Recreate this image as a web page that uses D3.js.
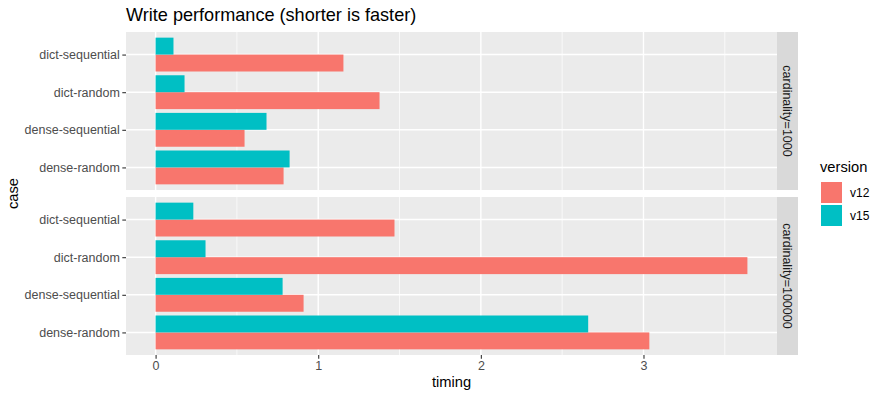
<!DOCTYPE html>
<html>
<head>
<meta charset="utf-8">
<script src="https://cdn.jsdelivr.net/npm/d3@7"></script>
<style>
  body { margin: 0; background: #fff; }
  svg { font-family: "Liberation Sans", Arial, sans-serif; display: block; }
</style>
</head>
<body>
<svg width="885" height="397"></svg>
<script>
// data
var cases = ["dict-sequential", "dict-random", "dense-sequential", "dense-random"];
var versions = ["v12", "v15"];
var panels = ["cardinality=1000", "cardinality=100000"];
var v12_1000 = [1.155, 1.377, 0.547, 0.787];
var v15_1000 = [0.110, 0.178, 0.682, 0.824];
var v12_100000 = [1.469, 3.639, 0.910, 3.036];
var v15_100000 = [0.232, 0.307, 0.781, 2.660];
var xTicks = [0, 1, 2, 3];
var colors = ["#F8766D", "#00BFC4"];

var panelData = [
  { name: panels[0], v12: v12_1000, v15: v15_1000 },
  { name: panels[1], v12: v12_100000, v15: v15_100000 }
];

var svg = d3.select("svg");
var left = 126, right = 777, stripW = 21;
var tops = [32, 197], ph = 158;
var small = 12.5;

var maxV = d3.max(panelData, function(p){ return d3.max(p.v12.concat(p.v15)); });
var x = d3.scaleLinear()
  .domain([-0.05 * maxV, maxV * 1.05])
  .range([left, right]);
var color = d3.scaleOrdinal().domain(versions).range(colors);

svg.append("text")
  .attr("x", left).attr("y", 21)
  .attr("font-size", 18.1).attr("fill", "#000")
  .text("Write performance (shorter is faster)");

panelData.forEach(function(p, i){
  var top = tops[i];
  var g = svg.append("g");
  var y = d3.scalePoint().domain(cases).range([top, top + ph]).padding(0.6);
  var step = y.step();
  // v15 drawn above v12 within each case
  var dodge = d3.scaleBand().domain(["v15", "v12"]).range([-0.45 * step, 0.45 * step]);

  g.append("rect").attr("x", left).attr("y", top)
    .attr("width", right - left).attr("height", ph).attr("fill", "#EBEBEB");

  // minor grid
  g.selectAll(".minor").data([0.5, 1.5, 2.5, 3.5]).enter().append("line")
    .attr("x1", function(d){ return x(d); }).attr("x2", function(d){ return x(d); })
    .attr("y1", top).attr("y2", top + ph)
    .attr("stroke", "#fff").attr("stroke-width", 0.7);
  // major grid
  g.selectAll(".majx").data(xTicks).enter().append("line")
    .attr("x1", function(d){ return x(d); }).attr("x2", function(d){ return x(d); })
    .attr("y1", top).attr("y2", top + ph)
    .attr("stroke", "#fff").attr("stroke-width", 1.4);
  g.selectAll(".majy").data(cases).enter().append("line")
    .attr("x1", left).attr("x2", right)
    .attr("y1", function(d){ return y(d); }).attr("y2", function(d){ return y(d); })
    .attr("stroke", "#fff").attr("stroke-width", 1.4);

  var bars = [];
  cases.forEach(function(c, k){
    bars.push({ c: c, v: "v12", val: p.v12[k] });
    bars.push({ c: c, v: "v15", val: p.v15[k] });
  });
  g.selectAll(".bar").data(bars).enter().append("rect")
    .attr("x", x(0))
    .attr("y", function(d){ return y(d.c) + dodge(d.v); })
    .attr("width", function(d){ return x(d.val) - x(0); })
    .attr("height", dodge.bandwidth())
    .attr("fill", function(d){ return color(d.v); });

  // y axis
  var ya = g.append("g").attr("transform", "translate(" + left + ",0)")
    .call(d3.axisLeft(y).tickSize(3.7).tickPadding(2.5));
  ya.select(".domain").remove();
  ya.selectAll("line").attr("stroke", "#333").attr("stroke-width", 1.1);
  ya.selectAll("text").attr("font-size", small).attr("fill", "#4D4D4D")
    .attr("font-family", "Liberation Sans, Arial, sans-serif");

  // strip
  g.append("rect").attr("x", right).attr("y", top)
    .attr("width", stripW).attr("height", ph).attr("fill", "#D9D9D9");
  g.append("text")
    .attr("transform", "translate(" + (right + stripW / 2) + "," + (top + ph / 2) + ") rotate(90)")
    .attr("text-anchor", "middle").attr("dy", "0.35em")
    .attr("font-size", small).attr("fill", "#1A1A1A")
    .text(p.name);

  if (i === 1) {
    var xa = g.append("g").attr("transform", "translate(0," + (top + ph) + ")")
      .call(d3.axisBottom(x).tickValues(xTicks).tickSize(3.7).tickPadding(2.5).tickFormat(d3.format("d")));
    xa.select(".domain").remove();
    xa.selectAll("line").attr("stroke", "#333").attr("stroke-width", 1.1);
    xa.selectAll("text").attr("font-size", small).attr("fill", "#4D4D4D")
      .attr("font-family", "Liberation Sans, Arial, sans-serif");
  }
});

svg.append("text")
  .attr("x", (left + right) / 2).attr("y", 387)
  .attr("text-anchor", "middle").attr("font-size", 14.7)
  .text("timing");

svg.append("text")
  .attr("transform", "translate(18," + ((tops[0] + tops[1] + ph) / 2) + ") rotate(-90)")
  .attr("text-anchor", "middle").attr("font-size", 14.7)
  .text("case");

// legend
var lg = svg.append("g").attr("transform", "translate(821,0)");
lg.append("text").attr("x", -1).attr("y", 172).attr("font-size", 14.7).text("version");
lg.selectAll(".key").data(versions).enter().append("rect")
  .attr("x", 0).attr("y", function(d, i){ return 182 + i * 23; })
  .attr("width", 21).attr("height", 21)
  .attr("fill", function(d){ return color(d); });
lg.selectAll(".lab").data(versions).enter().append("text")
  .attr("x", 29).attr("y", function(d, i){ return 192.5 + i * 23; })
  .attr("dy", "0.35em").attr("font-size", 12).attr("fill", "#000")
  .text(function(d){ return d; });
</script>
</body>
</html>
